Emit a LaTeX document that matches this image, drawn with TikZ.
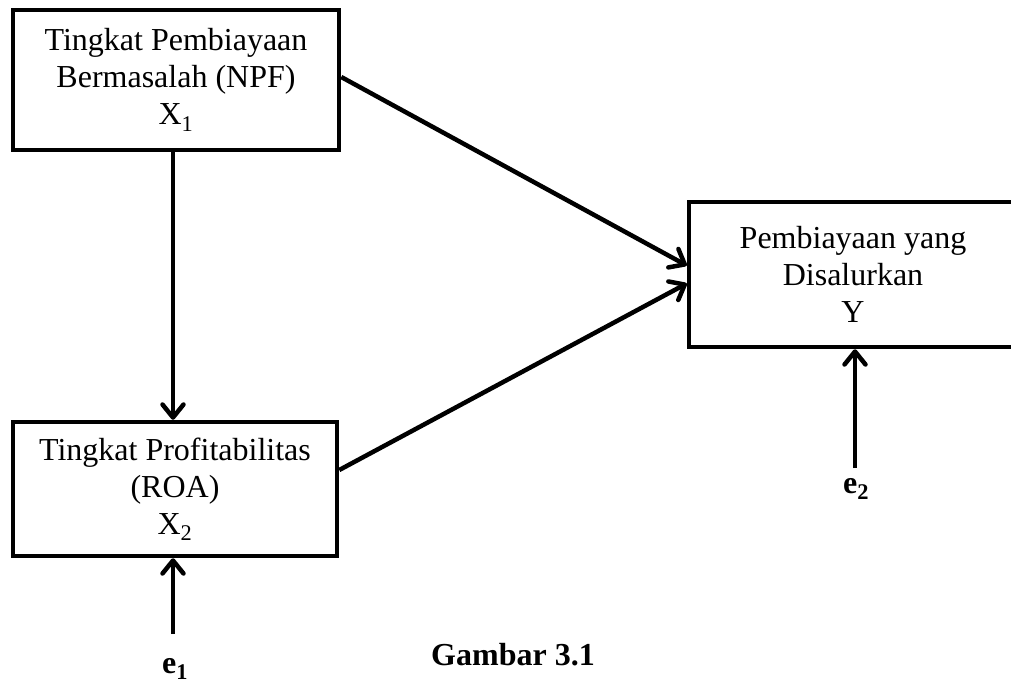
\documentclass[tikz,border=0pt]{standalone}
\usepackage{fontspec}
\setmainfont{Liberation Serif}
\usetikzlibrary{arrows.meta}

\begin{document}
\begin{tikzpicture}[x=1pt,y=-1pt,>={Straight Barb[length=13pt,width=21pt,round]},
		kotak/.style={draw,line width=4.5pt,align=center,inner sep=0pt,font=\fontsize{32}{37}\selectfont},
		panah/.style={->,line width=4.5pt},
		galat/.style={font=\fontsize{32}{37}\selectfont\bfseries,anchor=base}]
	
	\useasboundingbox (0,0) rectangle (1011,683);
	
	% kotak variabel
	\node[kotak,minimum width=326pt,minimum height=140pt] (npf) at (176,80) {Tingkat Pembiayaan\\Bermasalah (NPF)\\X\textsubscript{1}};
	\node[kotak,minimum width=324pt,minimum height=134pt] (roa) at (175,489) {Tingkat Profitabilitas\\(ROA)\\X\textsubscript{2}};
	\node[kotak,minimum width=328pt,minimum height=145pt] (pyd) at (853,274.5) {Pembiayaan yang\\Disalurkan\\Y};
	
	% galat
	\node[galat] (e1) at (175,673) {e\textsubscript{1}};
	\node[galat] (e2) at (856,493) {e\textsubscript{2}};
	\coordinate (e1ujung) at (173,634);
	\coordinate (e2ujung) at (855,468);
	
	% judul
	\node[galat] (judul) at (513,665) {Gambar 3.1};
	
	% panah
	\draw[panah] (npf.south -| e1ujung) -- (roa.north -| e1ujung);
	\draw[panah] ([yshift=3pt]npf.east) -- ([yshift=9pt]pyd.west);
	\draw[panah] ([yshift=19pt]roa.east) -- ([yshift=-9pt]pyd.west);
	\draw[panah] (e1ujung) -- (e1ujung |- roa.south);
	\draw[panah] (e2ujung) -- (e2ujung |- pyd.south);
	
\end{tikzpicture}
\end{document}
